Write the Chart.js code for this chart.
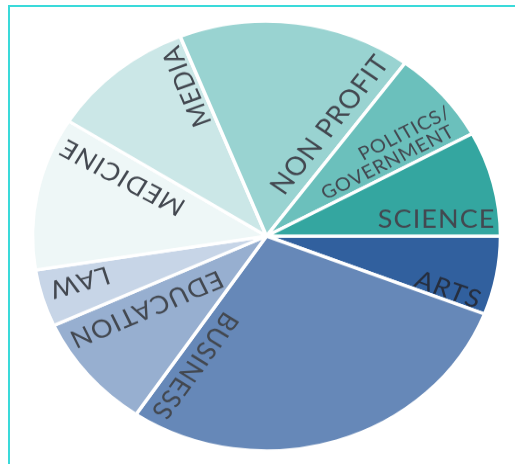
<!DOCTYPE html>
<html>
<head>
<meta charset="utf-8">
<script src="https://cdn.jsdelivr.net/npm/chart.js@4/dist/chart.umd.min.js"></script>
<style>
  html, body { margin: 0; padding: 0; background: #ffffff; overflow: hidden; }
  body { width: 515px; height: 464px; position: relative; }
  #frame { position: absolute; left: 8px; top: 5px; width: 600px; height: 600px;
           border-top: 2px solid #3adada; border-left: 2px solid #3adada; box-sizing: border-box; }
  #wrap { position: absolute; left: 0; top: 0; width: 515px; height: 505px;
          transform: scaleY(0.9185); transform-origin: 0 0; }
</style>
</head>
<body>
<div id="frame"></div>
<div id="wrap"><canvas id="c"></canvas></div>
<script>
// ---- data (clockwise from 3 o'clock) ----
const categories = ["ARTS", "BUSINESS", "EDUCATION", "LAW", "MEDICINE", "MEDIA", "NON PROFIT", "POLITICS/GOVERNMENT", "SCIENCE"];
const shares     = [5.9, 28.5, 8.75, 4.3, 11.5, 10.0, 16.1, 7.0, 7.9];
const labelLines = [["ARTS"], ["BUSINESS"], ["EDUCATION"], ["LAW"], ["MEDICINE"], ["MEDIA"], ["NON PROFIT"], ["POLITICS/", "GOVERNMENT"], ["SCIENCE"]];

// ---- styles / layout ----
const sliceColors = ["#31609e", "#6688b8", "#97afd0", "#c7d5e7", "#eef7f7", "#cbe7e7", "#99d3d1", "#6bc0bc", "#34a6a0"];
// label placement relative to each arc: f = fraction along arc for anchor, k = fraction of radius,
// g = fraction along arc for text direction, s = font size
const labelFrac   = [0.844, 0.933, 0.72, 0.62, 0.80, 0.88, 0.85, 0.68, 0.796];
const labelRadius = [0.816, 0.677, 0.616, 0.828, 0.674, 0.776, 0.585, 0.69, 0.731];
const labelTilt   = [1.0, 1.0, 1.0, 0.49, 0.94, 1.0, 1.0, 1.0, 1.0];
const labelSize   = [27, 27, 27, 27, 27, 27, 28, 20, 27];
const labelColor  = ["#262e3e", "#434850", "#434850", "#434850", "#434850", "#434850", "#434850", "#434850", "#434850"];

const radialLabels = {
  id: 'radialLabels',
  afterDatasetsDraw(chart) {
    const ctx = chart.ctx;
    const meta = chart.getDatasetMeta(0);
    meta.data.forEach((arc, i) => {
      const p = arc.getProps(['x', 'y', 'startAngle', 'endAngle', 'outerRadius'], true);
      const span = p.endAngle - p.startAngle;
      const a = p.startAngle + labelFrac[i] * span;
      const rot = p.startAngle + labelTilt[i] * span;
      const px = p.x + Math.cos(a) * p.outerRadius * labelRadius[i];
      const py = p.y + Math.sin(a) * p.outerRadius * labelRadius[i];
      ctx.save();
      ctx.translate(px, py);
      ctx.rotate(rot);
      ctx.font = labelSize[i] + 'px Lato, "Open Sans", sans-serif';
      if ('letterSpacing' in ctx) ctx.letterSpacing = (labelSize[i] * 0.04).toFixed(1) + 'px';
      ctx.fillStyle = labelColor[i];
      ctx.textAlign = 'center';
      ctx.textBaseline = 'middle';
      const lines = labelLines[i];
      const lh = labelSize[i] * 1.0;
      lines.forEach((ln, j) => {
        const dy = (j - (lines.length - 1) / 2) * lh;
        const dx = lines.length > 1 ? (j === 0 ? 15 : -15) : 0;
        ctx.fillText(ln, dx, dy);
      });
      ctx.restore();
    });
  }
};

new Chart(document.getElementById('c'), {
  type: 'pie',
  data: {
    labels: categories,
    datasets: [{
      data: shares,
      backgroundColor: sliceColors,
      borderColor: '#ffffff',
      borderWidth: 3.5,
      hoverOffset: 0
    }]
  },
  options: {
    responsive: true,
    maintainAspectRatio: false,
    animation: false,
    rotation: 90,
    radius: 234,
    layout: { padding: { left: 18, top: 9, right: 0, bottom: 0 } },
    plugins: { legend: { display: false }, tooltip: { enabled: false } }
  },
  plugins: [radialLabels]
});
</script>
</body>
</html>
